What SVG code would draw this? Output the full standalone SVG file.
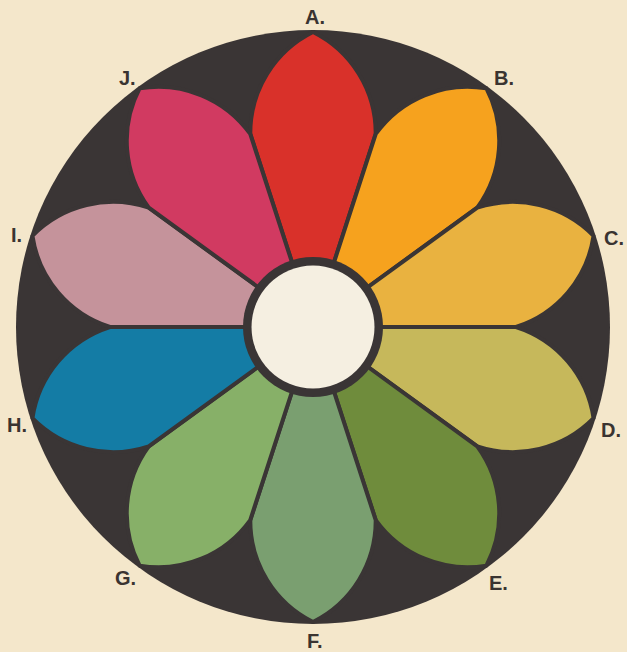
<svg xmlns="http://www.w3.org/2000/svg" width="627" height="652" viewBox="0 0 627 652">
<style>
.petal{stroke:#3a3535;stroke-width:4;stroke-linejoin:round}
.lbl{font-family:"Liberation Sans","DejaVu Sans",sans-serif;font-weight:bold;font-size:20px;fill:#3a3431}
</style>
<defs>
<path id="petal" d="M0 0 L62.7 -193.1 A113 113 0 0 0 0 -295 A113 113 0 0 0 -62.7 -193.1 Z"/>
</defs>
<rect width="627" height="652" fill="#f4e7cb"/>
<circle id="disc" cx="313" cy="327" r="297" fill="#3a3535"/>
<g transform="translate(313 327)">
<g id="petal-A"><use href="#petal" class="petal" fill="#d9312a" transform="rotate(0)"/></g>
<g id="petal-B"><use href="#petal" class="petal" fill="#f6a21e" transform="rotate(36)"/></g>
<g id="petal-C"><use href="#petal" class="petal" fill="#e9b240" transform="rotate(72)"/></g>
<g id="petal-D"><use href="#petal" class="petal" fill="#c6b85b" transform="rotate(108)"/></g>
<g id="petal-E"><use href="#petal" class="petal" fill="#6f8c3c" transform="rotate(144)"/></g>
<g id="petal-F"><use href="#petal" class="petal" fill="#7a9f70" transform="rotate(180)"/></g>
<g id="petal-G"><use href="#petal" class="petal" fill="#87b068" transform="rotate(216)"/></g>
<g id="petal-H"><use href="#petal" class="petal" fill="#147ca5" transform="rotate(252)"/></g>
<g id="petal-I"><use href="#petal" class="petal" fill="#c5939b" transform="rotate(288)"/></g>
<g id="petal-J"><use href="#petal" class="petal" fill="#d13a61" transform="rotate(324)"/></g>
<g id="hub">
<circle r="70" fill="#3a3535"/>
<circle r="61.5" fill="#f5efe1"/>
</g>
</g>
<g id="labels">
<text class="lbl" x="305" y="24">A.</text>
<text class="lbl" x="494" y="85">B.</text>
<text class="lbl" x="604" y="245">C.</text>
<text class="lbl" x="601" y="437">D.</text>
<text class="lbl" x="489" y="590">E.</text>
<text class="lbl" x="307" y="648">F.</text>
<text class="lbl" x="115" y="585">G.</text>
<text class="lbl" x="7" y="432">H.</text>
<text class="lbl" x="11" y="242">I.</text>
<text class="lbl" x="119" y="85">J.</text>
</g>
</svg>
